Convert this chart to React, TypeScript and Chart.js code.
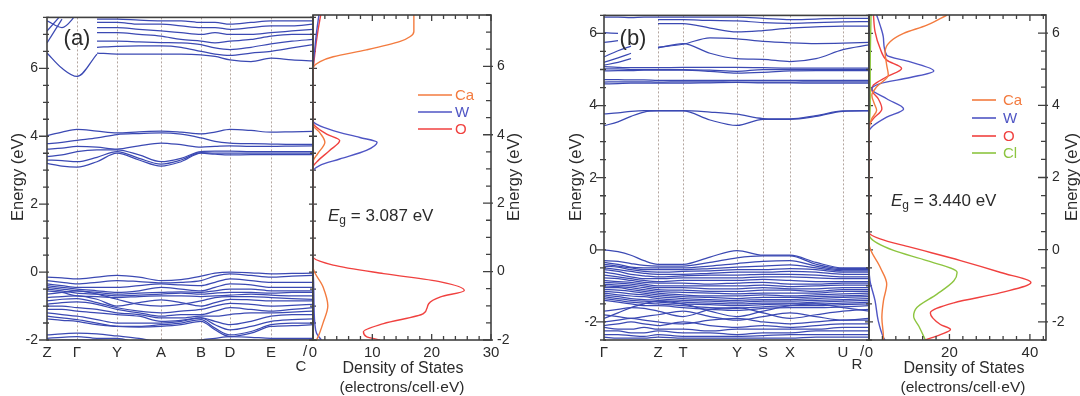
import React, { useEffect, useRef } from 'react';
import { Chart, registerables } from 'chart.js';
Chart.register(...registerables);

const PAGE_W = 1080;
const PAGE_H = 396;
const FONT = '"Liberation Sans", Arial, Helvetica, sans-serif';
const INK = '#2b2b2b';
const FRAME = '#404040';
const DASH = '#b3a59e';
const BAND_COLOR = '#3b49b3';
const CA_COLOR = '#f37b3f';
const W_COLOR = '#4f55c4';
const O_COLOR = '#f0413f';
const CL_COLOR = '#8dc540';

// ---------------- panel (a) ----------------
const kPathA = [0, 15, 30, 50, 70, 92, 114, 134, 154, 168, 183, 204, 224, 245, 266];
const kLabelsA = ['Z', 'Γ', 'Y', 'A', 'B', 'D', 'E'];
const kLabelPosA = [0, 30, 70, 114, 154, 183, 224];
const energyTicksA = [-2, 0, 2, 4, 6];
const dosTicksA = [0, 10, 20, 30];

const bandsAValence: (number | null)[][] = [
  [-0.15, -0.17, -0.2, -0.15, -0.1, -0.15, -0.25, -0.22, -0.12, -0.03, 0.0, -0.02, -0.05, -0.04, -0.03],
  [-0.25, -0.3, -0.35, -0.3, -0.25, -0.28, -0.32, -0.3, -0.25, -0.12, -0.05, -0.1, -0.15, -0.12, -0.1],
  [-0.35, -0.4, -0.45, -0.45, -0.45, -0.4, -0.35, -0.38, -0.4, -0.3, -0.2, -0.25, -0.3, -0.3, -0.3],
  [-0.4, -0.45, -0.5, -0.55, -0.6, -0.55, -0.45, -0.5, -0.55, -0.45, -0.35, -0.38, -0.45, -0.45, -0.45],
  [-0.45, -0.5, -0.55, -0.6, -0.65, -0.62, -0.6, -0.58, -0.6, -0.55, -0.5, -0.5, -0.55, -0.55, -0.55],
  [-0.5, -0.55, -0.62, -0.65, -0.7, -0.68, -0.65, -0.62, -0.65, -0.62, -0.6, -0.6, -0.62, -0.6, -0.6],
  [-0.55, -0.6, -0.7, -0.72, -0.75, -0.72, -0.7, -0.7, -0.72, -0.7, -0.68, -0.65, -0.68, -0.7, -0.7],
  [-0.65, -0.6, -0.55, -0.65, -0.8, -0.95, -1.0, -0.95, -0.85, -0.75, -0.72, -0.72, -0.75, -0.78, -0.8],
  [-0.75, -0.72, -0.7, -0.8, -1.0, -0.9, -0.82, -0.9, -1.0, -0.9, -0.8, -0.82, -0.85, -0.85, -0.85],
  [-0.85, -0.8, -0.78, -0.9, -1.05, -1.15, -1.2, -1.15, -1.1, -1.0, -0.92, -0.95, -1.0, -0.98, -0.95],
  [-0.95, -0.9, -0.88, -0.95, -1.1, -1.2, -1.3, -1.25, -1.25, -1.15, -1.05, -1.1, -1.15, -1.1, -1.05],
  [-1.0, -1.0, -1.05, -1.1, -1.2, -1.25, -1.35, -1.35, -1.3, -1.3, -1.25, -1.2, -1.2, -1.18, -1.15],
  [-1.1, -1.1, -1.15, -1.2, -1.25, -1.3, -1.45, -1.42, -1.35, -1.45, -1.55, -1.45, -1.3, -1.25, -1.25],
  [-1.2, -1.25, -1.3, -1.4, -1.5, -1.5, -1.5, -1.45, -1.35, -1.55, -1.7, -1.6, -1.45, -1.4, -1.38],
  [-1.3, -1.35, -1.4, -1.5, -1.6, -1.6, -1.55, -1.5, -1.4, -1.65, -1.85, -1.75, -1.55, -1.5, -1.5],
  [-1.38, -1.42, -1.45, -1.55, -1.6, -1.62, -1.6, -1.55, -1.45, -1.7, -1.9, -1.8, -1.6, -1.58, -1.55],
  [-1.85, -1.82, -1.8, -1.82, -1.88, -1.95, -2.05, -2.05, -2.0, -1.95, -1.9, -1.92, -1.95, -1.95, -1.95],
  [-1.95, -1.92, -1.9, -1.95, -1.95, -2.1, -2.2, -2.2, -2.1, -2.05, -2.0, -2.0, -2.05, -2.05, -2.05],
  [-2.05, -2.0, -2.0, -2.0, -2.05, -2.2, -2.3, -2.3, -2.2, -2.1, -2.1, -2.05, -2.0, -2.0, -2.0],
];

const bandsAConduction: (number | null)[][] = [
  [4.02, 4.12, 4.2, 4.15, 4.1, 4.13, 4.15, 4.12, 4.07, 4.12, 4.2, 4.17, 4.12, 4.13, 4.14],
  [3.78, 3.82, 3.88, 3.95, 4.05, 4.08, 4.1, 4.06, 3.95, 3.85, 3.8, 3.78, 3.77, 3.76, 3.76],
  [3.62, 3.65, 3.7, 3.68, 3.62, 3.72, 3.8, 3.75, 3.68, 3.7, 3.72, 3.7, 3.7, 3.71, 3.72],
  [3.4, 3.45, 3.55, 3.6, 3.6, 3.45, 3.25, 3.35, 3.55, 3.56, 3.56, 3.55, 3.55, 3.55, 3.55],
  [3.3, 3.28, 3.25, 3.38, 3.55, 3.35, 3.18, 3.3, 3.52, 3.5, 3.5, 3.5, 3.5, 3.5, 3.5],
  [3.2, 3.12, 3.09, 3.25, 3.5, 3.3, 3.12, 3.25, 3.5, 3.47, 3.45, 3.46, 3.46, 3.46, 3.46],
];

const bandsAUpper: (number | null)[][] = [
  [null, null, null, 6.45, 6.42, 6.42, 6.42, 6.42, 6.4, 6.35, 6.25, 6.2, 6.3, 6.25, 6.22],
  [null, null, null, 6.62, 6.65, 6.66, 6.66, 6.62, 6.5, 6.42, 6.38, 6.45, 6.5, 6.6, 6.7],
  [null, null, null, 6.8, 6.8, 6.78, 6.76, 6.75, 6.7, 6.6, 6.55, 6.62, 6.72, 6.8, 6.85],
  [null, null, null, 7.05, 7.05, 7.0, 6.95, 6.85, 6.8, 6.75, 6.8, 6.85, 6.95, 7.0, 7.0],
  [null, null, null, 7.2, 7.2, 7.15, 7.1, 7.05, 7.0, 7.05, 7.0, 7.0, 7.05, 7.1, 7.15],
  [null, null, null, 7.35, 7.35, 7.3, 7.3, 7.25, 7.2, 7.2, 7.15, 7.2, 7.25, 7.25, 7.3],
  [null, null, null, 7.45, 7.45, 7.42, 7.4, 7.4, 7.35, 7.35, 7.3, 7.35, 7.4, 7.4, 7.4],
  [6.45, 6.0, 5.76, 6.42, null, null, null, null, null, null, null, null, null, null, null],
  [6.75, 7.45, null, null, null, null, null, null, null, null, null, null, null, null, null],
  [7.1, 7.6, null, null, null, null, null, null, null, null, null, null, null, null, null],
  [7.4, 7.2, 7.6, null, null, null, null, null, null, null, null, null, null, null, null],
];

const dosACaE = [-2.0, -1.8, -1.5, -1.0, -0.45, 0.14, 0.5, 2.9, 3.2, 3.45, 3.78, 4.05, 4.3, 4.6, 5.6, 5.94, 6.14, 6.28, 6.48, 6.73, 6.87, 7.02, 7.5];
const dosACa = [0.6, 1.1, 1.7, 2.5, 1.7, 0, 0, 0, 0, 0.8, 2.0, 1.2, 0, 0, 0, 0, 1.2, 3.4, 9.0, 14.7, 16.4, 17.0, 17.0];
const dosAWE = [-2.0, -1.8, -1.5, -1.2, -0.8, -0.3, 0.1, 0.5, 2.6, 2.92, 3.1, 3.29, 3.54, 3.78, 3.92, 4.12, 4.41, 4.7, 5.9, 6.5, 7.0, 7.5];
const dosAW = [1.4, 0.6, 0.3, 0.2, 0.15, 0.1, 0, 0, 0, 0, 1.1, 4.5, 9.0, 10.8, 7.9, 3.4, 0, 0, 0, 0.3, 0.6, 1.0];
const dosAOE = [-2.0, -1.9, -1.76, -1.52, -1.23, -0.94, -0.74, -0.55, -0.3, -0.06, 0.19, 0.43, 0.7, 2.8, 3.05, 3.2, 3.54, 3.83, 4.02, 4.36, 4.6, 5.7, 6.5, 7.0, 7.5];
const dosAO = [11.3, 9.0, 8.5, 11.9, 18.6, 19.5, 21.5, 25.5, 21.5, 11.9, 3.4, 0, 0, 0, 0, 0.6, 2.8, 4.5, 2.3, 0, 0, 0, 0.4, 0.8, 1.3];

// ---------------- panel (b) ----------------
const kPathB = [0, 14, 27, 40, 54, 79, 106, 133, 159, 186, 212, 239, 265];
const kLabelsB = ['Γ', 'Z', 'T', 'Y', 'S', 'X', 'U'];
const kLabelPosB = [0, 54, 79, 133, 159, 186, 239];
const energyTicksB = [-2, 0, 2, 4, 6];
const dosTicksB = [0, 20, 40];

const bandsBValence: (number | null)[][] = [
  [0.0, -0.05, -0.15, -0.3, -0.4, -0.4, -0.2, -0.02, -0.15, -0.15, -0.35, -0.5, -0.5],
  [-0.3, -0.32, -0.38, -0.43, -0.45, -0.45, -0.35, -0.22, -0.17, -0.17, -0.4, -0.52, -0.52],
  [-0.35, -0.4, -0.48, -0.5, -0.5, -0.5, -0.45, -0.38, -0.32, -0.3, -0.45, -0.55, -0.55],
  [-0.4, -0.45, -0.5, -0.55, -0.55, -0.55, -0.52, -0.48, -0.45, -0.42, -0.5, -0.58, -0.58],
  [-0.45, -0.48, -0.55, -0.6, -0.62, -0.6, -0.58, -0.55, -0.55, -0.52, -0.55, -0.62, -0.62],
  [-0.5, -0.55, -0.6, -0.65, -0.68, -0.68, -0.65, -0.62, -0.62, -0.6, -0.62, -0.68, -0.68],
  [-0.55, -0.6, -0.68, -0.72, -0.75, -0.72, -0.7, -0.7, -0.68, -0.68, -0.7, -0.75, -0.75],
  [-0.62, -0.68, -0.75, -0.8, -0.8, -0.78, -0.78, -0.78, -0.75, -0.75, -0.78, -0.8, -0.8],
  [-0.7, -0.75, -0.8, -0.85, -0.88, -0.85, -0.85, -0.85, -0.82, -0.85, -0.88, -0.88, -0.88],
  [-0.78, -0.8, -0.85, -0.9, -0.92, -0.92, -0.95, -0.92, -0.9, -0.95, -0.95, -0.92, -0.92],
  [-0.85, -0.88, -0.9, -0.95, -1.0, -1.0, -1.0, -1.0, -0.98, -1.02, -1.0, -0.98, -0.98],
  [-0.9, -0.92, -0.95, -1.0, -1.05, -1.05, -1.08, -1.08, -1.05, -1.08, -1.08, -1.05, -1.05],
  [-0.95, -0.98, -1.0, -1.05, -1.1, -1.12, -1.15, -1.15, -1.12, -1.12, -1.15, -1.1, -1.1],
  [-1.0, -1.02, -1.05, -1.1, -1.15, -1.18, -1.2, -1.22, -1.2, -1.2, -1.2, -1.15, -1.15],
  [-1.05, -1.05, -1.1, -1.15, -1.2, -1.25, -1.28, -1.28, -1.25, -1.28, -1.25, -1.22, -1.2],
  [-1.1, -1.12, -1.15, -1.2, -1.25, -1.3, -1.32, -1.35, -1.32, -1.32, -1.3, -1.28, -1.25],
  [-1.15, -1.18, -1.22, -1.25, -1.3, -1.35, -1.38, -1.4, -1.38, -1.38, -1.35, -1.32, -1.3],
  [-1.2, -1.25, -1.28, -1.3, -1.35, -1.4, -1.42, -1.45, -1.42, -1.42, -1.4, -1.38, -1.35],
  [-1.25, -1.3, -1.35, -1.38, -1.4, -1.45, -1.48, -1.5, -1.48, -1.48, -1.45, -1.42, -1.4],
  [-1.3, -1.35, -1.4, -1.42, -1.45, -1.5, -1.52, -1.55, -1.52, -1.5, -1.5, -1.48, -1.45],
  [-1.35, -1.4, -1.45, -1.48, -1.5, -1.55, -1.6, -1.62, -1.58, -1.55, -1.55, -1.52, -1.5],
  [-1.4, -1.45, -1.5, -1.55, -1.55, -1.6, -1.65, -1.68, -1.62, -1.6, -1.6, -1.58, -1.55],
  [-1.9, -1.75, -1.6, -1.5, -1.42, -1.5, -1.7, -1.85, -1.7, -1.55, -1.5, -1.6, -1.7],
  [-1.7, -1.65, -1.6, -1.62, -1.7, -1.85, -1.65, -1.6, -1.75, -1.9, -1.8, -1.7, -1.65],
  [-1.8, -1.85, -1.9, -1.85, -1.8, -1.7, -1.85, -1.95, -1.85, -1.75, -1.85, -1.95, -1.9],
  [-2.0, -1.95, -1.9, -1.95, -2.0, -2.05, -1.95, -1.9, -2.0, -2.05, -2.0, -1.95, -1.95],
  [-2.1, -2.05, -2.0, -2.05, -2.1, -2.0, -2.1, -2.15, -2.1, -2.15, -2.1, -2.05, -2.05],
  [-2.15, -2.2, -2.2, -2.15, -2.2, -2.2, -2.25, -2.2, -2.2, -2.2, -2.2, -2.15, -2.15],
  [-2.25, -2.25, -2.3, -2.3, -2.25, -2.3, -2.3, -2.35, -2.3, -2.3, -2.25, -2.25, -2.25],
  [-2.35, -2.35, -2.38, -2.4, -2.35, -2.4, -2.4, -2.4, -2.38, -2.35, -2.35, -2.35, -2.35],
  [-2.42, -2.45, -2.45, -2.45, -2.42, -2.45, -2.45, -2.45, -2.45, -2.45, -2.42, -2.42, -2.42],
];

const bandsBConduction: (number | null)[][] = [
  [3.77, 3.8, 3.84, 3.86, 3.86, 3.86, 3.82, 3.76, 3.64, 3.63, 3.72, 3.85, 3.86],
  [3.44, 3.55, 3.7, 3.82, 3.85, 3.85, 3.6, 3.45, 3.62, 3.62, 3.7, 3.84, 3.85],
  [4.72, 4.72, 4.71, 4.71, 4.7, 4.7, 4.7, 4.7, 4.7, 4.7, 4.7, 4.7, 4.7],
  [4.65, 4.66, 4.66, 4.66, 4.65, 4.66, 4.66, 4.65, 4.65, 4.65, 4.66, 4.66, 4.66],
  [4.6, 4.61, 4.62, 4.62, 4.62, 4.62, 4.63, 4.64, 4.63, 4.63, 4.62, 4.62, 4.62],
  [5.08, 5.06, 5.05, 5.05, 5.05, 5.06, 5.06, 5.06, 5.05, 5.04, 5.04, 5.04, 5.04],
  [5.02, 5.02, 5.0, 5.0, 5.0, 5.0, 4.98, 4.95, 5.0, 5.0, 5.0, 5.0, 5.0],
  [4.96, 4.97, 4.97, 4.98, 4.98, 4.98, 4.95, 4.9, 4.92, 4.96, 4.97, 4.97, 4.97],
];

const bandsBUpper: (number | null)[][] = [
  [null, null, null, null, 5.6, 5.72, 5.45, 5.3, 5.28, 5.22, 5.3, 5.55, 5.68],
  [null, null, null, null, 5.62, 5.7, 5.88, 5.85, 5.78, 5.74, 5.72, 5.73, 5.75],
  [null, null, null, null, 6.27, 6.27, 6.15, 6.04, 6.08, 6.15, 6.18, 6.2, 6.2],
  [null, null, null, null, 6.38, 6.38, 6.36, 6.35, 6.3, 6.28, 6.3, 6.32, 6.33],
  [6.45, 6.45, 6.44, 6.45, 6.45, 6.45, 6.45, 6.45, 6.42, 6.38, 6.4, 6.42, 6.42],
  [5.2, 5.32, 5.45, null, null, null, null, null, null, null, null, null, null],
  [5.12, 5.2, 5.3, null, null, null, null, null, null, null, null, null, null],
  [5.35, 5.52, 5.65, null, null, null, null, null, null, null, null, null, null],
  [6.02, 6.0, null, null, null, null, null, null, null, null, null, null, null],
  [5.75, 5.8, null, null, null, null, null, null, null, null, null, null, null],
];

const dosBCaE = [-2.5, -2.43, -1.88, -1.41, -0.95, -0.48, 0.17, 0.5, 3.0, 3.3, 3.63, 3.86, 4.05, 4.28, 4.51, 4.84, 5.11, 5.48, 5.76, 5.99, 6.22, 6.5];
const dosBCa = [3.6, 3.6, 3.2, 3.6, 4.4, 2.75, 0, 0, 0, 0, 0.7, 1.9, 1.3, 0.7, 1.9, 4.8, 4.4, 4.0, 5.25, 8.6, 14.4, 19.4];
const dosBWE = [-2.5, -2.43, -1.97, -1.41, -0.86, -0.5, 0.0, 3.0, 3.27, 3.4, 3.67, 3.9, 4.18, 4.45, 4.6, 4.77, 4.95, 5.2, 5.39, 5.85, 6.22, 6.5];
const dosBW = [4.0, 3.6, 2.3, 1.5, 0.25, 0, 0, 0, 0, 0.7, 4.4, 8.6, 4.4, 0.7, 2.75, 10.25, 16.1, 10.25, 4.4, 3.6, 2.75, 1.9];
const dosBOE = [-2.5, -2.35, -2.21, -2.07, -1.75, -1.47, -1.19, -0.91, -0.63, -0.3, 0.07, 0.3, 0.48, 0.8, 3.2, 3.45, 3.63, 3.9, 4.18, 4.42, 4.56, 4.79, 5.02, 5.25, 5.58, 6.04, 6.5];
const dosBO = [14.0, 17.75, 20.25, 17.75, 15.25, 21.1, 32.75, 40.25, 32.75, 22.75, 10.25, 2.75, 0, 0, 0, 0, 1.1, 3.2, 2.3, 0.7, 1.1, 4.4, 8.1, 4.4, 2.75, 1.5, 1.1];
const dosBClE = [-2.5, -2.4, -2.12, -1.84, -1.6, -1.23, -0.86, -0.63, -0.3, -0.02, 0.35, 0.5, 3.2, 4.0, 5.0, 6.5];
const dosBCl = [14.0, 13.6, 12.4, 11.1, 11.9, 16.9, 21.1, 21.9, 14.4, 6.1, 0.25, 0, 0, 0.3, 0.3, 0.5];

// ---------------- drawing helpers ----------------
type Area = { l: number; t: number; r: number; b: number };
type TickSpec = {
  edge: 'left' | 'right' | 'top' | 'bottom';
  from: number; to: number; step: number; major: number;
  outMaj: number; inMaj: number; outMin: number; inMin: number;
};
type TextItem = {
  text: string; x: number; y: number; size: number; color?: string;
  align?: CanvasTextAlign; rotate?: number; style?: string;
};
type LegendSpec = { x1: number; x2: number; tx: number; size: number; items: { label: string; color: string; y: number }[] };
type Deco = {
  vlines?: number[];
  ticks?: TickSpec[];
  texts?: TextItem[];
  legend?: LegendSpec;
  eg?: { x: number; y: number; value: string };
};

const Y_BOX = 40;
const X_BOX = 40;
const TICK_FONT = 14;
const XLABEL_FONT = 15;
const TITLE_FONT = 16.5;

function decorPlugin(d: Deco) {
  return {
    id: 'decor',
    beforeDatasetsDraw(chart: any) {
      const { ctx, chartArea: a, scales } = chart;
      if (d.vlines) {
        ctx.save();
        ctx.strokeStyle = DASH;
        ctx.lineWidth = 1;
        ctx.setLineDash([2, 2]);
        d.vlines.forEach((v) => {
          const x = Math.round(scales.x.getPixelForValue(v)) + 0.5;
          ctx.beginPath();
          ctx.moveTo(x, a.top);
          ctx.lineTo(x, a.bottom);
          ctx.stroke();
        });
        ctx.restore();
      }
    },
    afterDatasetsDraw(chart: any) {
      const { ctx, chartArea: a, scales } = chart;
      ctx.save();
      ctx.strokeStyle = FRAME;
      ctx.lineWidth = 1.6;
      ctx.strokeRect(a.left, a.top, a.right - a.left, a.bottom - a.top);
      ctx.lineWidth = 1.3;
      (d.ticks || []).forEach((t) => {
        const vertical = t.edge === 'left' || t.edge === 'right';
        const scale = vertical ? scales.y : scales.x;
        ctx.beginPath();
        for (let i = 0; ; i++) {
          const v = t.from + i * t.step;
          if (v > t.to + 1e-9) break;
          const r = v / t.major;
          const isMajor = Math.abs(r - Math.round(r)) < 1e-6;
          const out = isMajor ? t.outMaj : t.outMin;
          const inn = isMajor ? t.inMaj : t.inMin;
          const p = scale.getPixelForValue(v);
          if (t.edge === 'left') { ctx.moveTo(a.left - out, p); ctx.lineTo(a.left + inn, p); }
          else if (t.edge === 'right') { ctx.moveTo(a.right + out, p); ctx.lineTo(a.right - inn, p); }
          else if (t.edge === 'bottom') { ctx.moveTo(p, a.bottom + out); ctx.lineTo(p, a.bottom - inn); }
          else { ctx.moveTo(p, a.top - out); ctx.lineTo(p, a.top + inn); }
        }
        ctx.stroke();
      });
      ctx.restore();
    },
    afterDraw(chart: any) {
      const { ctx } = chart;
      (d.texts || []).forEach((t) => {
        ctx.save();
        ctx.translate(t.x, t.y);
        if (t.rotate) ctx.rotate(t.rotate);
        ctx.font = `${t.style || ''} ${t.size}px ${FONT}`;
        ctx.fillStyle = t.color || INK;
        ctx.textAlign = t.align || 'center';
        ctx.textBaseline = 'middle';
        ctx.fillText(t.text, 0, 0);
        ctx.restore();
      });
      if (d.legend) {
        const L = d.legend;
        ctx.save();
        L.items.forEach((it) => {
          ctx.strokeStyle = it.color;
          ctx.lineWidth = 1.6;
          ctx.beginPath();
          ctx.moveTo(L.x1, it.y);
          ctx.lineTo(L.x2, it.y);
          ctx.stroke();
          ctx.font = `${L.size}px ${FONT}`;
          ctx.fillStyle = it.color;
          ctx.textAlign = 'left';
          ctx.textBaseline = 'middle';
          ctx.fillText(it.label, L.tx, it.y + 0.5);
        });
        ctx.restore();
      }
      if (d.eg) {
        const { x, y, value } = d.eg;
        ctx.save();
        ctx.fillStyle = INK;
        ctx.textAlign = 'left';
        ctx.textBaseline = 'alphabetic';
        ctx.font = `italic 17px ${FONT}`;
        ctx.fillText('E', x, y);
        const we = ctx.measureText('E').width;
        ctx.font = `12px ${FONT}`;
        ctx.fillText('g', x + we, y + 3);
        const wg = ctx.measureText('g').width;
        ctx.font = `17px ${FONT}`;
        ctx.fillText(' = ' + value + ' eV', x + we + wg, y);
        ctx.restore();
      }
    },
  };
}

function baseOptions(padding: { left: number; top: number; right: number; bottom: number }) {
  return {
    animation: false,
    responsive: false,
    maintainAspectRatio: false,
    events: [],
    layout: { padding },
    plugins: { legend: { display: false }, tooltip: { enabled: false }, title: { display: false } },
  };
}

function bandConfig(
  area: Area, kPath: number[], bands: (number | null)[][], xMax: number,
  yMin: number, yMax: number, labels: string[], labelPos: number[],
  yTicks: number[], yPad: number, deco: Deco,
) {
  const datasets = bands.map((b) => ({
    data: b.map((e, i) => ({ x: kPath[i], y: e })),
    borderColor: BAND_COLOR,
    borderWidth: 1.25,
    pointRadius: 0,
    fill: false,
    cubicInterpolationMode: 'monotone',
    spanGaps: false,
  }));
  const padding = { left: area.l - Y_BOX, top: area.t, right: PAGE_W - area.r, bottom: PAGE_H - area.b - X_BOX };
  return {
    type: 'line',
    data: { datasets },
    options: {
      ...baseOptions(padding),
      scales: {
        x: {
          type: 'linear', position: 'bottom', min: 0, max: xMax,
          afterFit: (s: any) => { s.height = X_BOX; },
          afterBuildTicks: (s: any) => { s.ticks = labelPos.map((v) => ({ value: v })); },
          grid: { display: false, drawTicks: false },
          border: { display: false },
          ticks: {
            autoSkip: false, maxRotation: 0, minRotation: 0, padding: 4, color: INK,
            font: { family: FONT, size: XLABEL_FONT },
            callback: (v: number) => { const i = labelPos.indexOf(v); return i >= 0 ? labels[i] : ''; },
          },
        },
        y: {
          type: 'linear', position: 'left', min: yMin, max: yMax,
          afterFit: (s: any) => { s.width = Y_BOX; },
          afterBuildTicks: (s: any) => { s.ticks = yTicks.map((v) => ({ value: v })); },
          grid: { display: false, drawTicks: false },
          border: { display: false },
          ticks: { autoSkip: false, padding: yPad, color: INK, font: { family: FONT, size: TICK_FONT }, callback: (v: number) => String(v) },
        },
      },
    },
    plugins: [decorPlugin(deco)],
  };
}

function dosConfig(
  area: Area, curves: { E: number[]; V: number[]; color: string }[], xMax: number,
  yMin: number, yMax: number, xTicks: number[], yTicks: number[], deco: Deco,
) {
  const datasets = curves.map((c) => ({
    data: c.E.map((e, i) => ({ x: c.V[i], y: e })),
    borderColor: c.color,
    borderWidth: 1.4,
    pointRadius: 0,
    fill: false,
    cubicInterpolationMode: 'monotone',
  }));
  const rightBox = 28;
  const padding = { left: area.l, top: area.t, right: PAGE_W - area.r - rightBox, bottom: PAGE_H - area.b - X_BOX };
  return {
    type: 'line',
    data: { datasets },
    options: {
      ...baseOptions(padding),
      indexAxis: 'y',
      scales: {
        x: {
          type: 'linear', position: 'bottom', min: 0, max: xMax,
          afterFit: (s: any) => { s.height = X_BOX; },
          afterBuildTicks: (s: any) => { s.ticks = xTicks.map((v) => ({ value: v })); },
          grid: { display: false, drawTicks: false },
          border: { display: false },
          ticks: { autoSkip: false, maxRotation: 0, minRotation: 0, padding: 4, color: INK, font: { family: FONT, size: XLABEL_FONT }, callback: (v: number) => String(v) },
        },
        y: {
          type: 'linear', position: 'right', min: yMin, max: yMax,
          afterFit: (s: any) => { s.width = rightBox; },
          afterBuildTicks: (s: any) => { s.ticks = yTicks.map((v) => ({ value: v })); },
          grid: { display: false, drawTicks: false },
          border: { display: false },
          ticks: { autoSkip: false, padding: 6, color: INK, font: { family: FONT, size: TICK_FONT }, callback: (v: number) => String(v) },
        },
      },
    },
    plugins: [decorPlugin(deco)],
  };
}

const ROT = -Math.PI / 2;

function buildConfigs() {
  const areaBandA = { l: 47, t: 15, r: 313, b: 340 };
  const areaDosA = { l: 313, t: 15, r: 491, b: 340 };
  const areaBandB = { l: 604, t: 15, r: 869, b: 340 };
  const areaDosB = { l: 869, t: 15, r: 1046, b: 340 };

  const bandA = bandConfig(
    areaBandA, kPathA, [...bandsAValence, ...bandsAConduction, ...bandsAUpper], 266, -2, 7.5,
    kLabelsA, kLabelPosA, energyTicksA, 9,
    {
      vlines: kLabelPosA.slice(1),
      ticks: [
        { edge: 'left', from: -2, to: 7.5, step: 0.5, major: 2, outMaj: 8, inMaj: 2, outMin: 4, inMin: 2 },
        { edge: 'right', from: -2, to: 7.5, step: 0.5, major: 2, outMaj: 4, inMaj: 4, outMin: 3, inMin: 3 },
      ],
      texts: [
        { text: 'Energy (eV)', x: 18, y: 177, size: TITLE_FONT, rotate: ROT },
        { text: '(a)', x: 77, y: 39, size: 22 },
        { text: 'C', x: 301, y: 367, size: XLABEL_FONT },
        { text: '/', x: 305, y: 352, size: XLABEL_FONT },
      ],
    },
  );

  const dosA = dosConfig(
    areaDosA,
    [
      { E: dosACaE, V: dosACa, color: CA_COLOR },
      { E: dosAWE, V: dosAW, color: W_COLOR },
      { E: dosAOE, V: dosAO, color: O_COLOR },
    ],
    30, -2, 7.5, dosTicksA, energyTicksA,
    {
      ticks: [
        { edge: 'right', from: -2, to: 7.5, step: 0.5, major: 2, outMaj: 2, inMaj: 8, outMin: 0, inMin: 5 },
        { edge: 'bottom', from: 0, to: 30, step: 2, major: 10, outMaj: 0, inMaj: 6, outMin: 0, inMin: 4 },
        { edge: 'top', from: 0, to: 30, step: 2, major: 10, outMaj: 0, inMaj: 6, outMin: 0, inMin: 4 },
      ],
      texts: [
        { text: 'Energy (eV)', x: 514, y: 177, size: TITLE_FONT, rotate: ROT },
        { text: 'Density of States', x: 403, y: 369, size: 16 },
        { text: '(electrons/cell·eV)', x: 402, y: 388, size: 15.5 },
      ],
      legend: {
        x1: 418, x2: 452, tx: 455, size: 15,
        items: [
          { label: 'Ca', color: CA_COLOR, y: 95 },
          { label: 'W', color: W_COLOR, y: 112 },
          { label: 'O', color: O_COLOR, y: 129 },
        ],
      },
      eg: { x: 328, y: 221, value: '3.087' },
    },
  );

  const bandB = bandConfig(
    areaBandB, kPathB, [...bandsBValence, ...bandsBConduction, ...bandsBUpper], 265, -2.5, 6.5,
    kLabelsB, kLabelPosB, energyTicksB, 7,
    {
      vlines: kLabelPosB.slice(1),
      ticks: [
        { edge: 'left', from: -2.5, to: 6.5, step: 0.5, major: 2, outMaj: 8, inMaj: 2, outMin: 4, inMin: 2 },
        { edge: 'right', from: -2.5, to: 6.5, step: 0.5, major: 2, outMaj: 4, inMaj: 4, outMin: 3, inMin: 3 },
      ],
      texts: [
        { text: 'Energy (eV)', x: 576, y: 177, size: TITLE_FONT, rotate: ROT },
        { text: '(b)', x: 633, y: 39, size: 22 },
        { text: 'R', x: 857, y: 365, size: XLABEL_FONT },
        { text: '/', x: 862, y: 352, size: XLABEL_FONT },
      ],
    },
  );

  const dosB = dosConfig(
    areaDosB,
    [
      { E: dosBCaE, V: dosBCa, color: CA_COLOR },
      { E: dosBWE, V: dosBW, color: W_COLOR },
      { E: dosBOE, V: dosBO, color: O_COLOR },
      { E: dosBClE, V: dosBCl, color: CL_COLOR },
    ],
    44, -2.5, 6.5, dosTicksB, energyTicksB,
    {
      ticks: [
        { edge: 'right', from: -2.5, to: 6.5, step: 0.5, major: 2, outMaj: 2, inMaj: 8, outMin: 0, inMin: 5 },
        { edge: 'bottom', from: 0, to: 44, step: 10 / 3, major: 20, outMaj: 0, inMaj: 6, outMin: 0, inMin: 4 },
        { edge: 'top', from: 0, to: 44, step: 10 / 3, major: 20, outMaj: 0, inMaj: 6, outMin: 0, inMin: 4 },
      ],
      texts: [
        { text: 'Energy (eV)', x: 1072, y: 177, size: TITLE_FONT, rotate: ROT },
        { text: 'Density of States', x: 964, y: 369, size: 16 },
        { text: '(electrons/cell·eV)', x: 963, y: 388, size: 15.5 },
      ],
      legend: {
        x1: 972, x2: 996, tx: 1003, size: 15,
        items: [
          { label: 'Ca', color: CA_COLOR, y: 100 },
          { label: 'W', color: W_COLOR, y: 118 },
          { label: 'O', color: O_COLOR, y: 136 },
          { label: 'Cl', color: CL_COLOR, y: 153 },
        ],
      },
      eg: { x: 891, y: 206, value: '3.440' },
    },
  );

  return [bandA, dosA, bandB, dosB];
}

export default function App() {
  const r0 = useRef<HTMLCanvasElement>(null);
  const r1 = useRef<HTMLCanvasElement>(null);
  const r2 = useRef<HTMLCanvasElement>(null);
  const r3 = useRef<HTMLCanvasElement>(null);
  const refs = [r0, r1, r2, r3];

  useEffect(() => {
    const configs = buildConfigs();
    const charts = configs.map((cfg, i) => new Chart(refs[i].current as HTMLCanvasElement, cfg as any));
    return () => charts.forEach((c) => c.destroy());
  }, []);

  return (
    <div style={{ position: 'absolute', left: 0, top: 0, width: PAGE_W, height: PAGE_H, background: '#ffffff', overflow: 'hidden' }}>
      {refs.map((r, i) => (
        <canvas
          key={i}
          ref={r}
          width={PAGE_W}
          height={PAGE_H}
          style={{ position: 'absolute', left: 0, top: 0, width: PAGE_W, height: PAGE_H }}
        />
      ))}
    </div>
  );
}
